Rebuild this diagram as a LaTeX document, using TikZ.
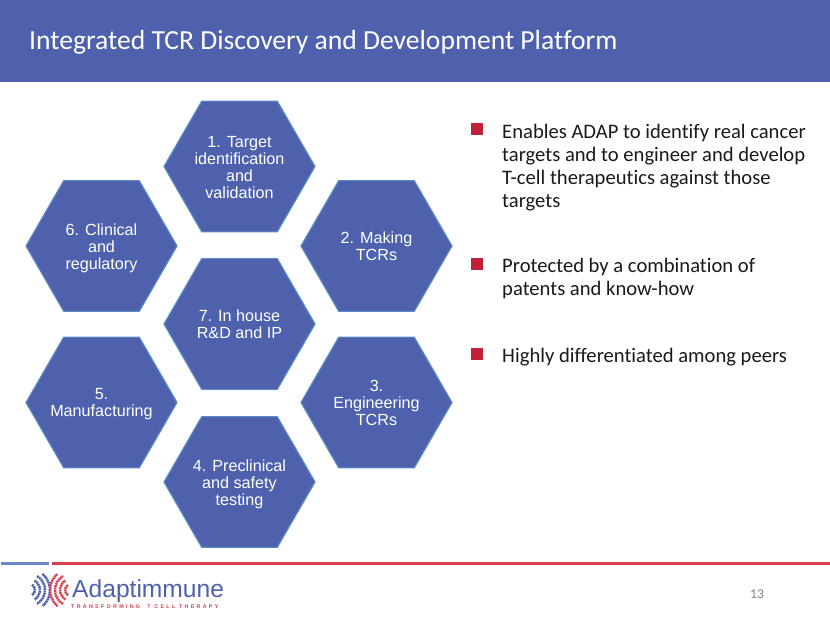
\documentclass[tikz,border=0pt]{standalone}
\usepackage{fontspec}
\setmainfont{Carlito}[Ligatures=NoCommon]
\newfontfamily\hexfont{Liberation Sans}
\usetikzlibrary{shapes.geometric}
\definecolor{slateblue}{HTML}{4F61AC}
\definecolor{edgeblue}{HTML}{5A8CC4}
\definecolor{barblue}{HTML}{6A86C8}
\definecolor{barred}{HTML}{D6404E}
\definecolor{squarered}{HTML}{C0203A}
\definecolor{bodyblack}{HTML}{1A1A1A}
\definecolor{pagegray}{HTML}{808080}
\tikzset{
  hexcell/.style={regular polygon, regular polygon sides=6, minimum size=4.53cm,
    inner sep=0pt, fill=slateblue, draw=edgeblue, line width=1pt},
  hexlabel/.style={inner sep=0pt, text=white, align=center,
    font=\hexfont\fontsize{13.8}{14.5}\selectfont},
  bullet/.style={fill=squarered, minimum size=0.36cm, inner sep=0pt},
  bodytext/.style={anchor=north west, align=left, text=bodyblack, inner sep=0pt,
    font=\fontsize{17.6}{19.6}\selectfont},
  logoarc/.style={line width=2.1pt, dash pattern=on 1.6pt off 0.5pt},
}
\begin{document}
\begin{tikzpicture}[x=0.03cm, y=-0.03cm]
  \useasboundingbox (0,0) rectangle (830,623);
  % title band
  \fill[slateblue] (0,0) rectangle (830,82);
  \node[anchor=west, text=white, inner sep=0pt, font=\fontsize{23.55}{26}\selectfont] (title) at (29,42)
    {Integrated TCR Discovery and Development Platform};
  % hexagons
  \foreach \hexname/\hexx/\hexy/\hexdy/\hextext in {
    hexone/239.5/166.5/0.5/{1. Target\\identification\\and\\validation},
    hextwo/376.5/246/0/{2. Making\\TCRs},
    hexthree/376.5/402.5/0/{3.\\Engineering\\TCRs},
    hexfour/239.5/482/1.7/{4. Preclinical\\and safety\\testing},
    hexfive/101.5/402.5/1.7/{5.\\Manufacturing},
    hexsix/101.5/246/1.7/{6. Clinical\\and\\regulatory},
    hexseven/239.5/324/0/{7. In house\\R\&D and IP}} {
    \node[hexcell] (\hexname) at (\hexx,\hexy) {};
    \node[hexlabel, yshift=-\hexdy pt] (\hexname text) at (\hexname) {\hextext};
  }
  % bullets
  \node[bullet] (markone) at (477,129) {};
  \node[bullet] (marktwo) at (477,264) {};
  \node[bullet] (markthree) at (477,354) {};
  \node[bodytext] (textone) at (502,124) {Enables ADAP to identify real cancer\\targets and to engineer and develop\\T-cell therapeutics against those\\targets};
  \node[bodytext] (texttwo) at (502,258) {Protected by a combination of\\patents and know-how};
  \node[bodytext] (textthree) at (502,348) {Highly differentiated among peers};
  % footer
  \fill[barblue] (1,561.5) rectangle (49,564.5);
  \fill[barred] (52,561.5) rectangle (830,564.5);
  \node[text=pagegray, inner sep=0pt, font=\fontsize{11.5}{13}\selectfont] (pagenum) at (757,594) {13};
  % logo
  \foreach \r/\a in {6/60,11/60,16/60,21/50} {
    \draw[slateblue, logoarc] (29,590)++(-\a:\r) arc (-\a:\a:\r);
    \draw[barred, logoarc] (71,590)++(180-\a:\r) arc (180-\a:180+\a:\r);
  }
  \node[anchor=west, text=slateblue, inner sep=0pt, font=\hexfont\fontsize{21}{24}\selectfont] (logoname) at (72,591) {Adaptimmune};
  \node[anchor=west, text=barred, inner sep=0pt, font=\hexfont\bfseries\fontsize{4.6}{6}\selectfont\addfontfeature{LetterSpace=42}] (logotag) at (71,607)
    {TRANSFORMING\hspace{3pt} T CELL THERAPY};
\end{tikzpicture}
\end{document}
